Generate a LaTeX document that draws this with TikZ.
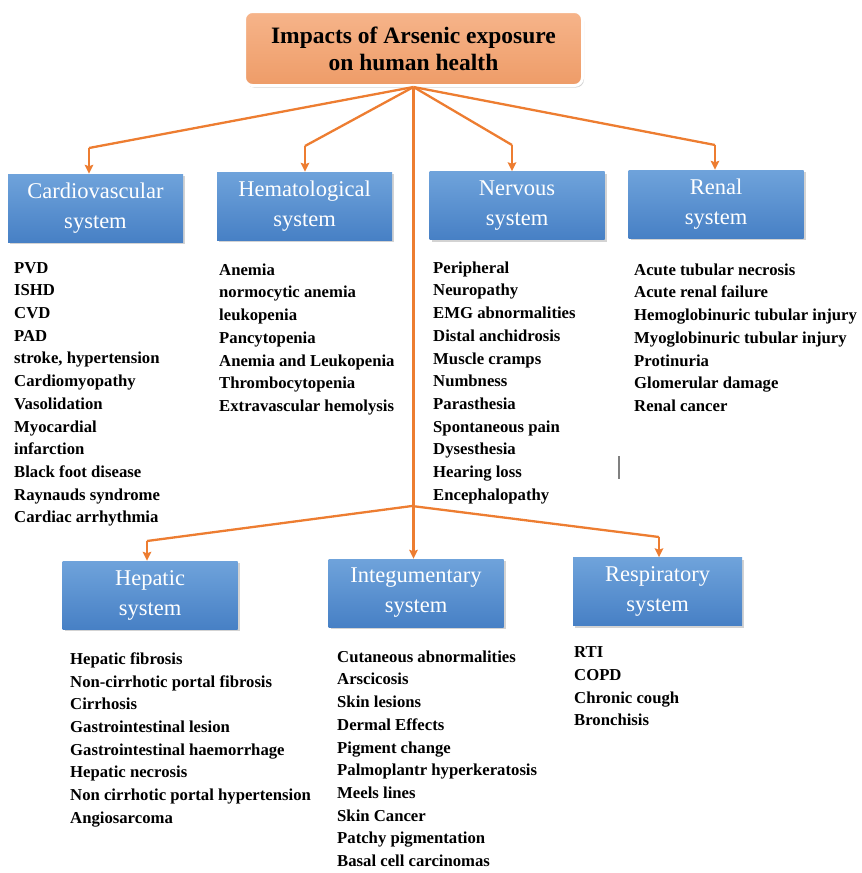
\documentclass[tikz,border=0pt]{standalone}
\usepackage{fontspec}
\setmainfont{Liberation Serif}
\usetikzlibrary{arrows.meta, shadows}
\definecolor{linkorange}{HTML}{ED7D31}
\definecolor{boxtop}{HTML}{6FA3DB}
\definecolor{boxbottom}{HTML}{4780C5}
\definecolor{titletop}{HTML}{F6B48A}
\definecolor{titlebottom}{HTML}{EE9C68}

\begin{document}
\begin{tikzpicture}[x=1pt, y=1pt, >={Stealth[length=9pt, width=8.5pt, inset=1.5pt]},
    link/.style={draw=linkorange, line width=2.3pt},
    headbox/.style={rectangle, rounded corners=8pt, draw=white, line width=3pt,
        top color=titletop, bottom color=titlebottom, minimum width=338, minimum height=74,
        align=center, font=\bfseries\fontsize{23.5}{27}\selectfont,
        drop shadow={shadow xshift=1.5pt, shadow yshift=-2pt, opacity=0.35}},
    sysbox/.style={rectangle, top color=boxtop, bottom color=boxbottom, text=white,
        minimum width=175, minimum height=68, align=center,
        font=\fontsize{22.5}{30}\selectfont,
        drop shadow={shadow xshift=2pt, shadow yshift=-2pt, opacity=0.35}},
    listing/.style={anchor=north west, inner sep=0pt, align=left,
        font=\bfseries\fontsize{16.7}{22.7}\selectfont}]

    \useasboundingbox (0,0) rectangle (862,-873);

    %define the title and the system boxes
    \node[headbox] (impact) at (413.5,-48.5) {Impacts of Arsenic exposure\\on human health};
    \node[sysbox] (cardio) at (95.5,-208) {Cardiovascular\\system};
    \node[sysbox] (hemato) at (304.5,-206) {Hematological\\system};
    \node[sysbox] (nerv) at (517,-205.5) {Nervous\\system};
    \node[sysbox] (renal) at (716,-204) {Renal\\system};
    \node[sysbox] (hepat) at (150,-595) {Hepatic\\system};
    \node[sysbox] (integ) at (416,-593) {Integumentary\\system};
    \node[sysbox, minimum width=169] (resp) at (657.5,-591.5) {Respiratory\\system};

    %bends of the links
    \coordinate (cb) at (89,-148);
    \coordinate (hb) at (305,-146);
    \coordinate (nb) at (512,-145);
    \coordinate (rb) at (715,-145);
    \coordinate (hub) at (412,-506);
    \coordinate (pb) at (147,-541);
    \coordinate (sb) at (659,-537);

    %define the links
    \draw[link] (impact.south) -- (cb);
    \draw[link, ->] (cb) -- (cb |- cardio.north);
    \draw[link] (impact.south) -- (hb);
    \draw[link, ->] (hb) -- (hb |- hemato.north);
    \draw[link] (impact.south) -- (nb);
    \draw[link, ->] (nb) -- (nb |- nerv.north);
    \draw[link] (impact.south) -- (rb);
    \draw[link, ->] (rb) -- (rb |- renal.north);
    \draw[link, ->] (impact.south) -- (impact.south |- integ.north);
    \draw[link] (hub) -- (pb);
    \draw[link, ->] (pb) -- (pb |- hepat.north);
    \draw[link] (hub) -- (sb);
    \draw[link, ->] (sb) -- (sb |- resp.north);

    %effects listed under each system
    \node[listing] (cardiolist) at (14,-262) {PVD\\ISHD\\CVD\\PAD\\stroke, hypertension\\Cardiomyopathy\\Vasolidation\\Myocardial\\infarction\\Black foot disease\\Raynauds syndrome\\Cardiac arrhythmia};
    \node[listing] (hematolist) at (219,-263.5) {Anemia\\normocytic anemia\\leukopenia\\Pancytopenia\\Anemia and Leukopenia\\Thrombocytopenia\\Extravascular hemolysis};
    \node[listing] (nervlist) at (433,-261.5) {Peripheral\\Neuropathy\\EMG abnormalities\\Distal anchidrosis\\Muscle cramps\\Numbness\\Parasthesia\\Spontaneous pain\\Dysesthesia\\Hearing loss\\Encephalopathy};
    \node[listing] (renallist) at (634,-263.5) {Acute tubular necrosis\\Acute renal failure\\Hemoglobinuric tubular injury\\Myoglobinuric tubular injury\\Protinuria\\Glomerular damage\\Renal cancer};
    \node[listing] (hepatlist) at (70,-652.5) {Hepatic fibrosis\\Non-cirrhotic portal fibrosis\\Cirrhosis\\Gastrointestinal lesion\\Gastrointestinal haemorrhage\\Hepatic necrosis\\Non cirrhotic portal hypertension\\Angiosarcoma};
    \node[listing] (integlist) at (337,-650.5) {Cutaneous abnormalities\\Arscicosis\\Skin lesions\\Dermal Effects\\Pigment change\\Palmoplantr hyperkeratosis\\Meels lines\\Skin Cancer\\Patchy pigmentation\\Basal cell carcinomas};
    \node[listing] (resplist) at (574,-646.5) {RTI\\COPD\\Chronic cough\\Bronchisis};

    %stray mark beside the renal list
    \draw[gray, line width=1.5pt] (619,-456) -- (619,-479);
\end{tikzpicture}
\end{document}
